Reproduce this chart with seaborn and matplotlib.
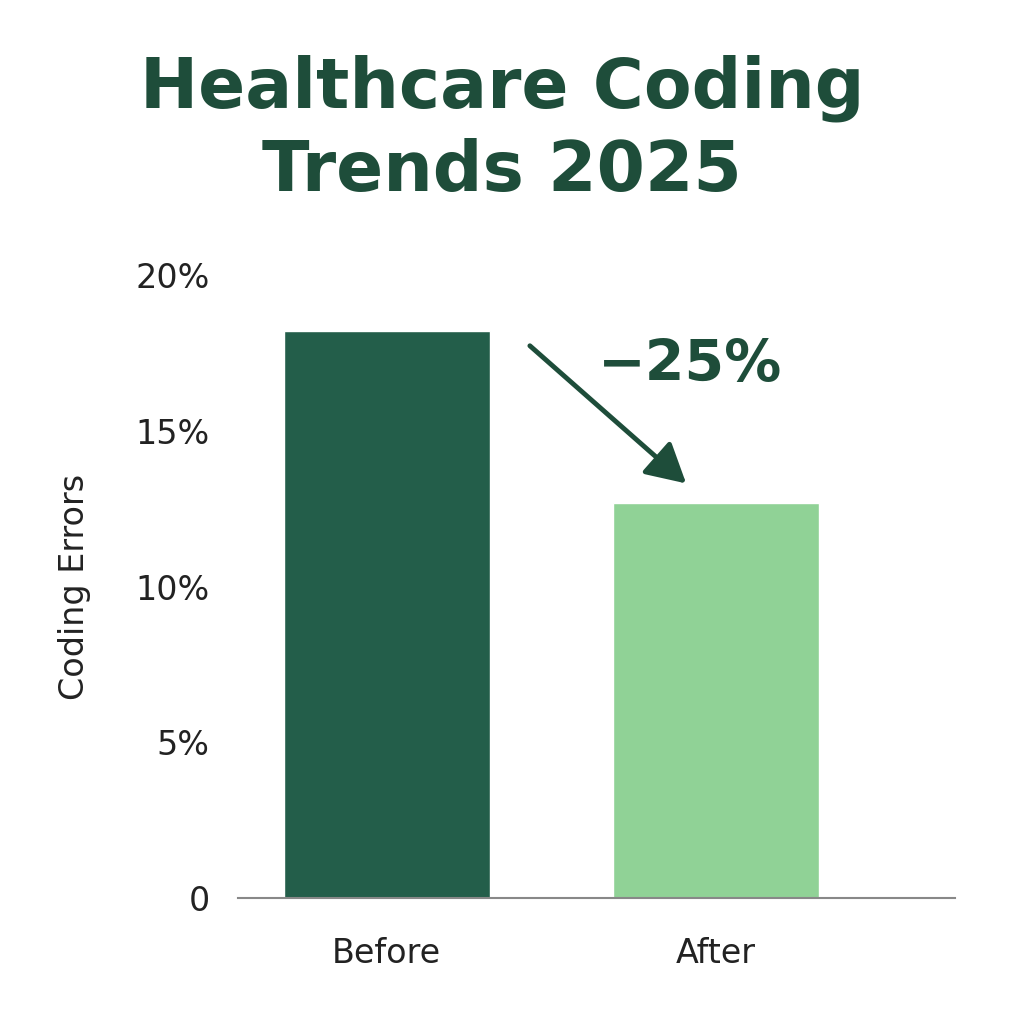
import matplotlib
matplotlib.use("Agg")
import matplotlib.pyplot as plt
import seaborn as sns
import pandas as pd

# data
etapas = ["Before", "After"]
errores = [18.2, 12.7]
colores = ["#235E4A", "#90D296"]
ticks = [0, 5, 10, 15, 20]
tick_labels = ["0", "5%", "10%", "15%", "20%"]

df = pd.DataFrame({"Etapa": etapas, "Errores": errores})

sns.set_theme(style="white", font="DejaVu Sans")
fig = plt.figure(figsize=(10.24, 10.24), dpi=100)
ax = fig.add_axes([0.232, 0.123, 0.701, 0.608])

sns.barplot(data=df, x="Etapa", y="Errores", hue="Etapa", palette=colores,
            width=0.626, legend=False, ax=ax, saturation=1)

ax.set_xlim(-0.453, 1.726)
ax.set_ylim(0, 20)
ax.set_yticks(ticks)
ax.set_yticklabels(tick_labels, fontsize=24, color="#222222")
ax.tick_params(axis="x", labelsize=24, colors="#222222", length=0, pad=28)
ax.tick_params(axis="y", length=0, pad=20)
ax.set_xlabel("")
ax.set_ylabel("Coding Errors", fontsize=24, color="#222222", labelpad=32)

for s in ["top", "right", "left"]:
    ax.spines[s].set_visible(False)
ax.spines["bottom"].set_color("#888888")
ax.spines["bottom"].set_linewidth(1.5)

# flecha y texto de reducción
ax.annotate("", xy=(0.915, 13.26), xytext=(0.428, 17.8),
            arrowprops=dict(arrowstyle="-|>,head_length=2.0,head_width=1.1",
                            color="#1E4D3A", lw=3.5), annotation_clip=False)
ax.text(0.921, 17.1, "\u221225%", fontsize=41, color="#1E4D3A",
        ha="center", va="center", fontweight="semibold")

fig.text(0.49, 0.873, "Healthcare Coding\nTrends 2025", ha="center", va="center",
         fontsize=50, fontweight="bold", color="#1E4D3A", linespacing=1.3)

plt.savefig("out.png", dpi=100)
